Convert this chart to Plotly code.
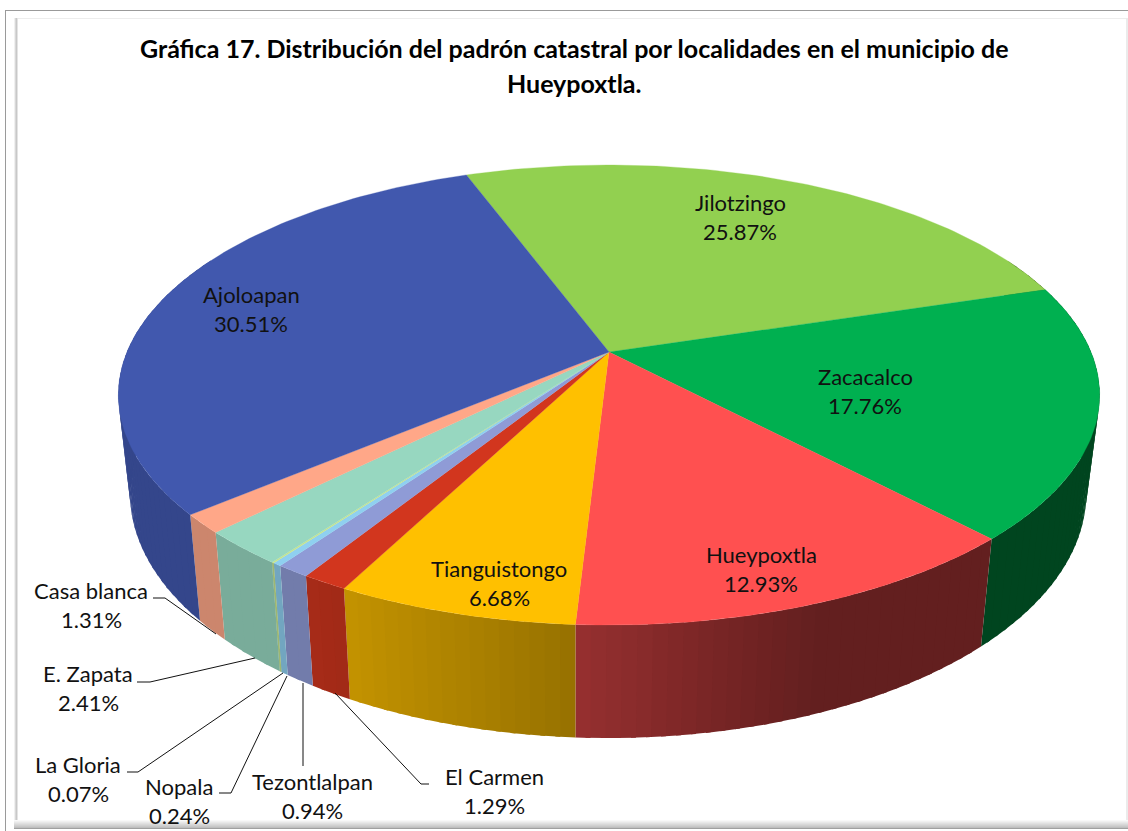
import math
import plotly.graph_objects as go

categories = ["Jilotzingo", "Zacacalco", "Hueypoxtla", "Tianguistongo", "El Carmen", "Tezontlalpan",
              "Nopala", "La Gloria", "E. Zapata", "Casa blanca", "Ajoloapan"]
values = [25.87, 17.76, 12.93, 6.68, 1.29, 0.94, 0.24, 0.07, 2.41, 1.31, 30.51]
colors = ["#92D050", "#00B050", "#FF5050", "#FFC000", "#D2361E", "#8F9BD6",
          "#8FD0F0", "#C5E58F", "#97D7C0", "#FFA788", "#4158AE"]
title_lines = ["Gráfica 17. Distribución del padrón catastral por localidades en el municipio de", "Hueypoxtla."]
label_pos = [(740, 202), (865, 376), (761, 554), (499, 568), (494, 776), (312, 781),
             (179, 786), (78, 764), (88, 673), (91, 590), (251, 294)]

START = -20.35
CX, CY, A, B, K = 609, 352, 482, 222, 0.187


def top(deg):
    r = math.radians(deg)
    X, d = math.sin(r), math.cos(r)
    s = 1 / (1 + K * d)
    return CX + A * X * s, CY - B * d * s


def bottom(deg):
    x, y = top(deg)
    return 575 + (x - 575) * 0.9745, 1.064 * y + 73


def shade(hexc, x):
    if x <= 300:
        f = 0.8
    elif x <= 575:
        f = 0.8 - (x - 300) * 0.21 / 275
    else:
        f = max(0.39, 0.59 - (x - 575) * 0.2 / 240)
    r, g, b = [int(hexc[i:i + 2], 16) for i in (1, 3, 5)]
    return f"rgb({r * f:.0f},{g * f:.0f},{b * f:.0f})"


def poly(fig, pts, color, w=0.0):
    fig.add_trace(go.Scatter(x=[p[0] for p in pts] + [pts[0][0]], y=[p[1] for p in pts] + [pts[0][1]],
                             mode="lines", fill="toself", fillcolor=color,
                             line=dict(color=color, width=w), hoverinfo="skip", showlegend=False))


fig = go.Figure()
spans = []
a = START
total = sum(values)
for v in values:
    b = a + v / total * 360
    spans.append((a, b))
    a = b

# side walls: short overlapping bands, each painted over the previous one so no seam shows
for (a, b), c in zip(spans, colors):
    n = max(2, int((b - a) / 1.5))
    for i in range(n):
        t0 = a + (b - a) * i / n
        t1 = a + (b - a) * (i + 1) / n
        if math.cos(math.radians((t0 + t1) / 2)) > 0.45:
            continue
        t2 = min(b, t1 + 0.5)
        p0, p1, p2 = top(t0), top(t1), top(t2)
        poly(fig, [p0, p1, p2, bottom(t2), bottom(t1), bottom(t0)], shade(c, (p0[0] + p1[0]) / 2))

# top faces
for (a, b), c in zip(spans, colors):
    n = max(2, int((b - a) / 1))
    arc = [top(a + (b - a) * i / n) for i in range(n + 1)]
    poly(fig, [(CX, CY)] + arc, c, 0.3)

# leader lines
leaders = [
    ([153, 165, 216], [598, 598, 634]),
    ([137, 150, 255], [682, 682, 658]),
    ([127, 138, 283], [772, 772, 673]),
    ([219, 231, 287], [793, 793, 676]),
    ([303, 303], [683, 766]),
    ([429, 421, 335], [784, 784, 693]),
]
for lx, ly in leaders:
    fig.add_trace(go.Scatter(x=lx, y=ly, mode="lines", line=dict(color="#111111", width=1),
                             hoverinfo="skip", showlegend=False))

anns = []
for name, v, (x, y) in zip(categories, values, label_pos):
    anns.append(dict(x=x, y=y, text=name, showarrow=False, xanchor="center", yanchor="middle",
                     font=dict(family="Lato", size=22, color="#111111")))
    anns.append(dict(x=x, y=y + 29, text=f"{v:.2f}%", showarrow=False, xanchor="center", yanchor="middle",
                     font=dict(family="Lato", size=22, color="#111111")))
for t, y in zip(title_lines, (48, 83)):
    anns.append(dict(x=574, y=y, text=f"<b>{t}</b>", showarrow=False, xanchor="center", yanchor="middle",
                     font=dict(family="Lato", size=25, color="#000000")))

shapes = []


def rect(x0, y0, x1, y1, color):
    shapes.append(dict(type="rect", x0=x0, y0=y0, x1=x1, y1=y1, fillcolor=color,
                       line=dict(width=0), layer="above"))


# frame: outer grey rule and inner bevel
rect(5, 10, 1128, 11, "#9A9A9A")
rect(5, 10, 6, 831, "#9A9A9A")
rect(14, 18, 1128, 19, "#EDEDED")
for i, c in enumerate(["#F0F0F0", "#D8D8D8", "#C8C8C8", "#E4E4E4"]):
    rect(14 + i, 18, 15 + i, 828, c)
rect(1126, 18, 1128, 824, "#EBEBEB")
for i, c in enumerate(["#F8F8F8", "#F0F0F0", "#E8E8E8", "#E0E0E0", "#D8D8D8", "#D0D0D0", "#C8C8C8", "#BEBEBE", "#A0A0A0"]):
    rect(14, 820 + i, 1128, 821 + i, c)

fig.update_layout(
    width=1128, height=831, margin=dict(l=0, r=0, t=0, b=0),
    paper_bgcolor="white", plot_bgcolor="white", annotations=anns, shapes=shapes, showlegend=False,
    xaxis=dict(range=[0, 1128], visible=False, fixedrange=True),
    yaxis=dict(range=[831, 0], visible=False, fixedrange=True),
)
fig.write_html("out.html", post_script="document.body.style.margin='0';document.body.style.overflow='hidden';",
               config={"displayModeBar": False})
